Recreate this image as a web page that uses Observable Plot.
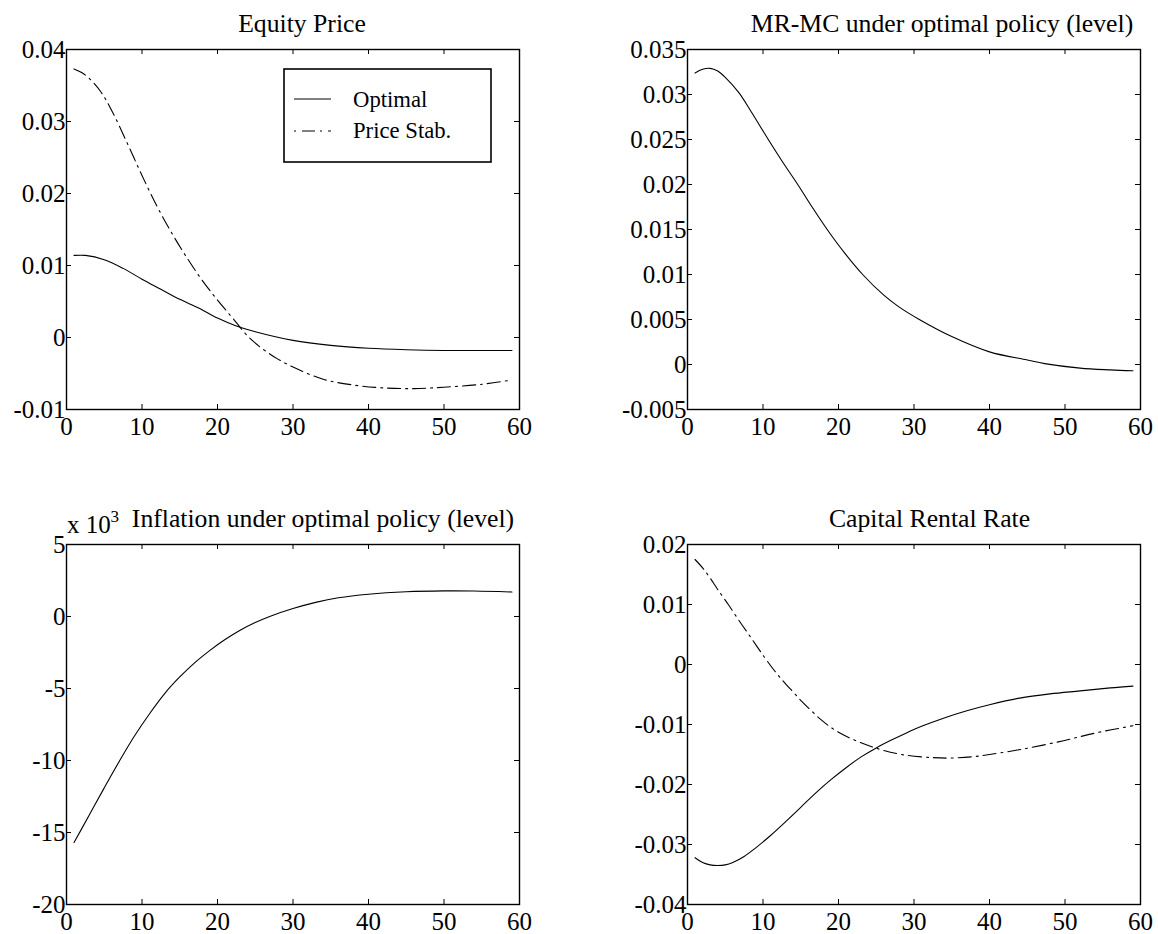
<!DOCTYPE html>
<html>
<head>
<meta charset="utf-8">
<script src="https://cdn.jsdelivr.net/npm/d3@7"></script>
<script src="https://cdn.jsdelivr.net/npm/@observablehq/plot@0.6"></script>
<style>
  html, body { margin: 0; padding: 0; background: #fff; }
  #page { position: relative; width: 1158px; height: 934px; overflow: hidden; background: #fff;
          font-family: "Liberation Serif", "Times New Roman", serif; }
  .panel { position: absolute; }
  .panel svg { overflow: visible; }
  #overlay { position: absolute; left: 0; top: 0; pointer-events: none; }
</style>
</head>
<body>
<div id="page"></div>
<script>
// ---------------- data ----------------
const xTicks = [0, 10, 20, 30, 40, 50, 60];

// Equity Price
const equityTicks = [-0.01, 0, 0.01, 0.02, 0.03, 0.04];
const equityOptX = [1, 2.5, 5, 7.5, 10, 12.5, 15, 17.5, 20, 22.5, 25, 30, 35, 40, 45, 50, 55, 59];
const equityOptY = [0.0114, 0.0114, 0.0108, 0.0096, 0.0081, 0.0067, 0.0053, 0.0041, 0.0027, 0.0016, 0.0008, -0.0004, -0.0011, -0.0015, -0.0017, -0.0018, -0.0018, -0.0018];
const equityPsX = [1, 2, 3, 4.5, 6, 8, 10, 12, 14, 16, 18, 20, 22, 24, 26, 28, 30, 34, 38, 42, 46, 50, 55, 59];
const equityPsY = [0.0373, 0.0368, 0.0360, 0.0342, 0.0315, 0.0271, 0.0225, 0.0182, 0.0144, 0.0110, 0.0079, 0.0052, 0.0027, 0.0002, -0.0016, -0.0030, -0.0041, -0.0058, -0.0066, -0.0070, -0.0071, -0.0069, -0.0065, -0.0059];

// MR-MC under optimal policy (level)
const mrmcTicks = [-0.005, 0, 0.005, 0.01, 0.015, 0.02, 0.025, 0.03, 0.035];
const mrmcX = [1, 2, 3, 4, 5, 6.8, 8.5, 10.7, 12.6, 14.6, 16.5, 18.5, 20.8, 23.2, 26, 28, 30.7, 35, 40, 45, 47.3, 52, 56, 59];
const mrmcY = [0.0324, 0.0328, 0.0329, 0.0326, 0.0319, 0.0302, 0.0280, 0.0250, 0.0225, 0.0200, 0.0175, 0.0150, 0.0124, 0.0100, 0.0077, 0.0064, 0.0050, 0.0031, 0.0014, 0.0005, 0.0001, -0.0004, -0.0006, -0.0007];

// Inflation under optimal policy (level), in units shown on the axis
const inflTicks = [-20, -15, -10, -5, 0, 5];
const inflX = [1, 3, 5, 7, 9, 11, 13, 15, 17, 19, 21, 23, 25, 27, 30, 33, 36, 40, 45, 50, 54, 59];
const inflY = [-15.7, -13.8, -11.9, -10.05, -8.3, -6.75, -5.35, -4.2, -3.2, -2.35, -1.6, -0.95, -0.42, 0.02, 0.55, 0.98, 1.3, 1.55, 1.72, 1.78, 1.77, 1.7];

// Capital Rental Rate
const capTicks = [-0.04, -0.03, -0.02, -0.01, 0, 0.01, 0.02];
const capOptX = [1, 2, 3, 4, 5, 6, 7.5, 9, 11, 13, 15, 17, 19, 21, 23, 25, 27, 29, 31, 34, 37, 40, 44, 48, 52, 56, 59];
const capOptY = [-0.0322, -0.0330, -0.0334, -0.0335, -0.0334, -0.0330, -0.0320, -0.0306, -0.0285, -0.0262, -0.0238, -0.0214, -0.0192, -0.0172, -0.0154, -0.0139, -0.0126, -0.0114, -0.0103, -0.0089, -0.0077, -0.0067, -0.0056, -0.0049, -0.0044, -0.0039, -0.0036];
const capPsX = [1, 2, 3, 4, 5.4, 7, 8.5, 10.2, 11.5, 12.7, 14, 15.1, 16.4, 17.6, 18.8, 20, 21.4, 22.9, 24.4, 25.9, 28.8, 32.2, 34.6, 37.6, 40, 44.4, 49.8, 54.1, 59];
const capPsY = [0.0175, 0.0161, 0.0144, 0.0125, 0.0100, 0.0070, 0.0043, 0.0012, -0.0010, -0.0028, -0.0046, -0.0061, -0.0077, -0.0091, -0.0103, -0.0113, -0.0122, -0.0130, -0.0137, -0.0143, -0.0151, -0.0155, -0.0156, -0.0154, -0.0150, -0.0141, -0.0127, -0.0114, -0.0102];

const seriesNames = ["Optimal", "Price Stab."];
const titles = ["Equity Price", "MR-MC under optimal policy (level)", "Inflation under optimal policy (level)", "Capital Rental Rate"];

// ---------------- helpers ----------------
const FONT = '"Liberation Serif", "Times New Roman", serif';
const DASHDOT = "13,5,2,5";
const fmt = d => String(+(+d).toFixed(5));
const toRows = (xs, ys) => xs.map((x, i) => ({x, y: ys[i]}));

function panel(opts) {
  const {left, top, width, height, mL, mR, mT, mB, yDomain, yTicks, series} = opts;
  const fw = width - mL - mR, fh = height - mT - mB;
  const marks = [
    Plot.axisX({anchor: "bottom", ticks: xTicks, tickSize: 0, tickPadding: 8, tickFormat: fmt, label: null, fontSize: 25}),
    Plot.axisY({anchor: "left", ticks: yTicks, tickSize: 0, tickPadding: 1, tickFormat: fmt, label: null, fontSize: 25}),
    Plot.ruleX(xTicks, {x: d => d, insetBottom: fh - 5, stroke: "black", strokeWidth: 1}),
    Plot.ruleX(xTicks, {x: d => d, insetTop: fh - 5, stroke: "black", strokeWidth: 1}),
    Plot.ruleY(yTicks, {y: d => d, insetRight: fw - 5, stroke: "black", strokeWidth: 1}),
    Plot.ruleY(yTicks, {y: d => d, insetLeft: fw - 5, stroke: "black", strokeWidth: 1}),
    ...series.map(s => Plot.line(s.rows, {x: "x", y: "y", curve: "catmull-rom", stroke: "black",
                                         strokeWidth: 1.1, strokeDasharray: s.dash || null})),
    Plot.frame({stroke: "black", strokeWidth: 1.4})
  ];
  const chart = Plot.plot({
    width, height, marginLeft: mL, marginRight: mR, marginTop: mT, marginBottom: mB,
    style: {fontFamily: FONT, fontSize: "25px", color: "black", background: "transparent", overflow: "visible"},
    x: {domain: [0, 60]},
    y: {domain: yDomain},
    marks
  });
  const div = document.createElement("div");
  div.className = "panel";
  div.style.left = left + "px";
  div.style.top = top + "px";
  div.appendChild(chart);
  document.getElementById("page").appendChild(div);
}

// ---------------- panels ----------------
panel({left: 0, top: 0, width: 579, height: 467, mL: 66, mR: 60, mT: 49, mB: 58,
  yDomain: [-0.01, 0.04], yTicks: equityTicks,
  series: [{rows: toRows(equityOptX, equityOptY)}, {rows: toRows(equityPsX, equityPsY), dash: DASHDOT}]});

panel({left: 579, top: 0, width: 579, height: 467, mL: 108, mR: 18, mT: 49, mB: 58,
  yDomain: [-0.005, 0.035], yTicks: mrmcTicks,
  series: [{rows: toRows(mrmcX, mrmcY)}]});

panel({left: 0, top: 467, width: 579, height: 467, mL: 66, mR: 60, mT: 77, mB: 30,
  yDomain: [-20, 5], yTicks: inflTicks,
  series: [{rows: toRows(inflX, inflY)}]});

panel({left: 579, top: 467, width: 579, height: 467, mL: 108, mR: 18, mT: 77, mB: 30,
  yDomain: [-0.04, 0.02], yTicks: capTicks,
  series: [{rows: toRows(capOptX, capOptY)}, {rows: toRows(capPsX, capPsY), dash: DASHDOT}]});

// ---------------- titles, legend, exponent ----------------
const ns = "http://www.w3.org/2000/svg";
const ov = document.createElementNS(ns, "svg");
ov.setAttribute("id", "overlay");
ov.setAttribute("width", 1158);
ov.setAttribute("height", 934);
ov.setAttribute("font-family", FONT);
document.getElementById("page").appendChild(ov);
function el(tag, attrs, text) {
  const e = document.createElementNS(ns, tag);
  for (const k in attrs) e.setAttribute(k, attrs[k]);
  if (text != null) e.textContent = text;
  ov.appendChild(e);
  return e;
}
const titlePos = [[302, 32], [942, 32], [323, 527], [929.5, 527]];
titles.forEach((t, i) => el("text", {x: titlePos[i][0], y: titlePos[i][1], "text-anchor": "middle", "font-size": 25.7, fill: "black"}, t));

// exponent label of the inflation panel
el("text", {x: 67, y: 533, "font-size": 25, fill: "black"}, "x 10");
el("text", {x: 110.5, y: 521.5, "font-size": 17, fill: "black"}, "3");

// legend
el("rect", {x: 284, y: 69, width: 207, height: 93, fill: "white", stroke: "black", "stroke-width": 1.6});
el("line", {x1: 294, x2: 331, y1: 99, y2: 99, stroke: "black", "stroke-width": 1.1});
el("line", {x1: 294, x2: 331, y1: 131, y2: 131, stroke: "black", "stroke-width": 1.1, "stroke-dasharray": "2,6,13,5"});
el("text", {x: 353, y: 107, "font-size": 22.7, fill: "black"}, seriesNames[0]);
el("text", {x: 353, y: 138, "font-size": 22.7, fill: "black"}, seriesNames[1]);
</script>
</body>
</html>
